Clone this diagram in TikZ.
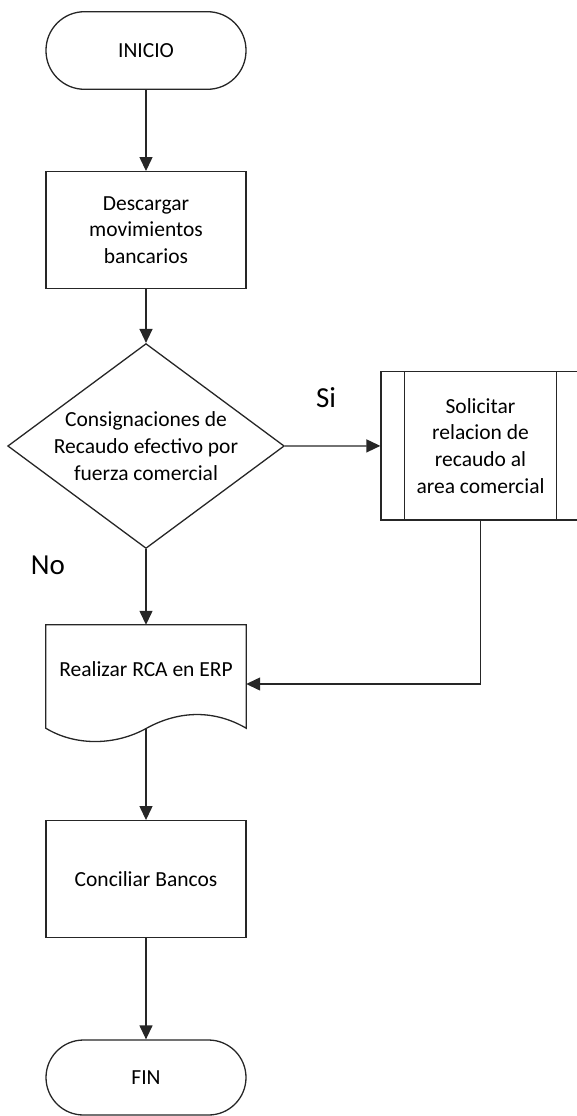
\documentclass[tikz,border=0pt]{standalone}
\usepackage{fontspec}
\setmainfont{Carlito}
\usetikzlibrary{arrows.meta,shapes.geometric}
\begin{document}
\begin{tikzpicture}[x=1pt,y=-1pt,
  every node/.style={font=\fontsize{21.5}{26.7}\selectfont, text=black, align=center, inner sep=0pt},
  line/.style={line width=1.3pt, draw=black!85},
  term/.style={line, rectangle, rounded corners=38.5pt, minimum width=200pt, minimum height=77.6pt},
  proc/.style={line, rectangle, minimum width=200pt, minimum height=116.6pt},
  decision/.style={line, diamond, aspect=1.35, minimum width=272pt, minimum height=202pt},
  subproc/.style={line, rectangle, minimum width=199pt, minimum height=148.3pt},
  docbox/.style={rectangle, minimum width=200pt, minimum height=103pt},
  answer/.style={font=\fontsize{29}{34}\selectfont},
  flow/.style={line, -{Triangle[length=14pt,width=13pt]}}
]
\useasboundingbox (0,0) rectangle (577,1116);
\clip (0,0) rectangle (577,1116);

% main column
\node[term] (inicio) at (146,50.5) {INICIO};
\node[proc] (desc) at (146,230) {Descargar\\movimientos\\bancarios};
\node[decision] (dec) at (146,446) {Consignaciones de\\Recaudo efectivo por\\fuerza comercial};
\node[subproc] (sol) at (480.5,445.9) {Solicitar\\relacion de\\recaudo al\\area comercial};
\draw[line] ([xshift=24pt]sol.north west) -- ([xshift=24pt]sol.south west);
\draw[line] ([xshift=-24pt]sol.north east) -- ([xshift=-24pt]sol.south east);

% document shape with wavy bottom
\node[docbox] (rca) at (146,676.5) {};
\draw[line] (rca.south west) -- (rca.north west) -- (rca.north east) -- (rca.south east)
  .. controls (215,710) and (180,710) .. (147,728)
  .. controls (115,746) and (75,746) .. (rca.south west) -- cycle;
\node (rcatext) at (146,669) {Realizar RCA en ERP};

\node[proc, minimum height=117pt] (conc) at (146,879.2) {Conciliar Bancos};
\node[term, minimum height=75pt, rounded corners=37.5pt] (fin) at (146,1077.5) {FIN};

% answers
\node[answer] (si) at (326,398) {Si};
\node[answer] (no) at (48,565) {No};

% connectors
\draw[flow] (inicio) -- (desc);
\draw[flow] (desc) -- (dec.north);
\draw[flow] (dec.east) -- (sol.west);
\draw[flow] (dec.south) -- (rca.north);
\draw[flow] (sol.south) |- ([yshift=-7.5pt]rca.east);
\draw[flow] (rca.south) -- (conc.north);
\draw[flow] (conc) -- (fin);
\end{tikzpicture}
\end{document}
